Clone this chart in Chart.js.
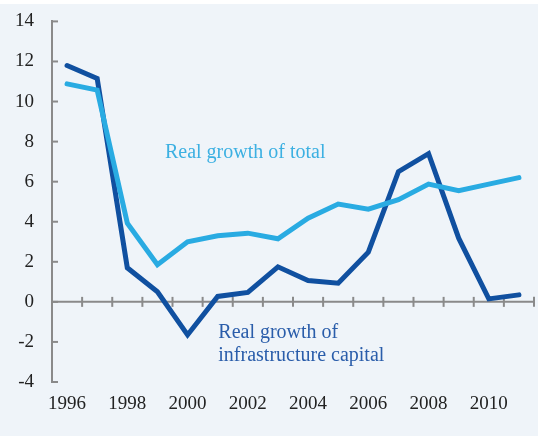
<!DOCTYPE html>
<html>
<head>
<meta charset="utf-8">
<script src="https://cdn.jsdelivr.net/npm/chart.js@4.4.1/dist/chart.umd.min.js"></script>
<style>
html,body{margin:0;padding:0;background:#ffffff;}
#wrap{position:absolute;left:0;top:0;width:538px;height:436px;}
</style>
</head>
<body>
<div id="wrap"><canvas id="c" width="538" height="436"></canvas></div>
<script>
// ---- data ----
const years = ['1996','1997','1998','1999','2000','2001','2002','2003','2004','2005','2006','2007','2008','2009','2010','2011'];
const infraGrowth = [11.8, 11.15, 1.7, 0.5, -1.65, 0.27, 0.47, 1.75, 1.07, 0.93, 2.48, 6.5, 7.4, 3.18, 0.15, 0.35];
const totalGrowth = [10.88, 10.57, 3.93, 1.85, 3.0, 3.3, 3.43, 3.15, 4.18, 4.88, 4.63, 5.1, 5.88, 5.55, 5.88, 6.2];
const yTicks = [-4, -2, 0, 2, 4, 6, 8, 10, 12, 14];

const darkBlue = '#1050a0';
const lightBlue = '#29abe2';
const axisGray = '#8a8a8a';
const fontFam = '"Liberation Serif", "DejaVu Serif", serif';

const bgPlugin = {
  id: 'bg',
  beforeDraw(chart) {
    const ctx = chart.ctx;
    ctx.save();
    ctx.fillStyle = '#eff4f9';
    ctx.fillRect(0, 4, chart.width, chart.height - 4);
    ctx.restore();
  }
};

const axesPlugin = {
  id: 'axesDecor',
  beforeDatasetsDraw(chart) {
    const ctx = chart.ctx;
    const xs = chart.scales.x, ys = chart.scales.y;
    const a = chart.chartArea;
    const y0 = ys.getPixelForValue(0);
    ctx.save();
    ctx.strokeStyle = axisGray;
    ctx.lineWidth = 2;
    ctx.beginPath();
    ctx.moveTo(a.left, y0);
    ctx.lineTo(a.right, y0);
    ctx.stroke();
    const step = xs.getPixelForValue(1) - xs.getPixelForValue(0);
    for (let i = 0; i <= years.length; i++) {
      const px = xs.getPixelForValue(0) - step / 2 + i * step;
      ctx.beginPath();
      ctx.moveTo(px, y0 - 5);
      ctx.lineTo(px, y0 + 5);
      ctx.stroke();
    }
    yTicks.forEach(v => {
      const py = ys.getPixelForValue(v);
      ctx.beginPath();
      ctx.moveTo(a.left, py);
      ctx.lineTo(a.left + 6, py);
      ctx.stroke();
    });
    ctx.restore();
  },
  afterDatasetsDraw(chart) {
    const ctx = chart.ctx;
    const xs = chart.scales.x, ys = chart.scales.y;
    ctx.save();
    ctx.font = '20px ' + fontFam;
    ctx.textBaseline = 'middle';
    ctx.textAlign = 'left';
    ctx.fillStyle = '#3cb0e2';
    ctx.fillText('Real growth of total', xs.getPixelForValue(3.25), ys.getPixelForValue(7.45));
    ctx.fillStyle = '#2a5daa';
    ctx.fillText('Real growth of', xs.getPixelForValue(5.02), ys.getPixelForValue(-1.55));
    ctx.fillText('infrastructure capital', xs.getPixelForValue(5.02), ys.getPixelForValue(-2.7));
    ctx.restore();
  }
};

new Chart(document.getElementById('c'), {
  type: 'line',
  data: {
    labels: years,
    datasets: [
      { label: 'Real growth of total', data: totalGrowth, borderColor: lightBlue, borderWidth: 5,
        pointRadius: 0, tension: 0, borderJoinStyle: 'miter', borderCapStyle: 'round', fill: false },
      { label: 'Real growth of infrastructure capital', data: infraGrowth, borderColor: darkBlue, borderWidth: 5,
        pointRadius: 0, tension: 0, borderJoinStyle: 'miter', borderCapStyle: 'round', fill: false }
    ]
  },
  options: {
    responsive: false,
    animation: false,
    devicePixelRatio: 1,
    layout: { padding: { left: 0, right: 4, top: 16.6, bottom: 0 } },
    plugins: { legend: { display: false }, tooltip: { enabled: false } },
    scales: {
      x: {
        type: 'category',
        offset: true,
        grid: { display: false },
        border: { display: false },
        ticks: {
          autoSkip: false, maxRotation: 0, padding: 3,
          color: '#222222', font: { family: fontFam, size: 19 },
          callback: function(val, i) { return i % 2 === 0 ? years[i] : ''; }
        },
        afterFit(s) { s.height = 54; }
      },
      y: {
        min: -4, max: 14,
        grid: { display: false },
        border: { display: true, color: axisGray, width: 2 },
        ticks: {
          stepSize: 2, padding: 10, color: '#222222',
          font: { family: fontFam, size: 19 }
        },
        afterFit(s) { s.width = 52; }
      }
    }
  },
  plugins: [bgPlugin, axesPlugin]
});
</script>
</body>
</html>
